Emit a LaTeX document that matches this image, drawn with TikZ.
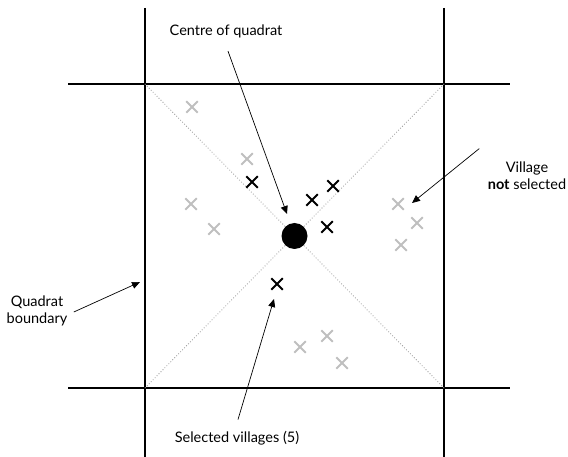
\documentclass[tikz,border=0pt]{standalone}
\usepackage{fontspec}
\setmainfont{Lato}
\usetikzlibrary{arrows.meta,shapes.misc,positioning}

\begin{document}
\begin{tikzpicture}[x=1pt, y=-1pt, >={Triangle[length=8pt,width=7pt]},
                    every node/.style={align=center, font=\fontsize{14.5}{17}\selectfont},
                    grid/.style={line width=2.6pt, black},
                    diag/.style={dotted, gray!85, line width=0.8pt},
                    village/.style={cross out, draw, minimum size=9.5pt, inner sep=0pt, line width=2pt},
                    chosen/.style={village, black},
                    other/.style={village, gray!50},
                    pointer/.style={->, line width=0.7pt}]
  \useasboundingbox (0,0) rectangle (568,457);

  % Quadrat grid
  \draw[grid] (145,8) -- (145,457);
  \draw[grid] (444,8) -- (444,457);
  \draw[grid] (68,84) -- (510,84);
  \draw[grid] (68,388) -- (510,388);

  % Diagonals
  \draw[diag] (145,84) -- (444,388);
  \draw[diag] (444,84) -- (145,388);

  % Centre of quadrat
  \node[circle, fill=black, minimum size=26pt, inner sep=0pt] (centre) at (294.5,236) {};

  % Villages not selected
  \node[other] (o1) at (192,107) {};
  \node[other] (o2) at (247,159) {};
  \node[other] (o3) at (191,204) {};
  \node[other] (o4) at (214,229) {};
  \node[other] (o5) at (398,204) {};
  \node[other] (o6) at (417,223) {};
  \node[other] (o7) at (401,245) {};
  \node[other] (o8) at (300,347) {};
  \node[other] (o9) at (327,336) {};
  \node[other] (o10) at (342,363) {};

  % Selected villages
  \node[chosen] (s1) at (252,182) {};
  \node[chosen] (s2) at (312,200) {};
  \node[chosen] (s3) at (333,186) {};
  \node[chosen] (s4) at (327,227) {};
  \node[chosen] (s5) at (277,284) {};

  % Labels
  \node (lcentre) at (226,31) {Centre of quadrat};
  \node (lselected) at (237,438) {Selected villages (5)};
  \node (lboundary) at (37,311) {Quadrat\\boundary};
  \node (lnot) at (527,176) {Village\\\textbf{not} selected};

  % Arrow ends
  \coordinate (tcentre) at (287,214);
  \coordinate (tselected) at (274,299);
  \coordinate (tboundary) at (140,282);
  \coordinate (tnot) at (412,203);

  % Pointers
  \draw[pointer] ([xshift=2pt, yshift=-10pt]lcentre.south) -- (tcentre);
  \draw[pointer] ([xshift=1pt, yshift=8pt]lselected.north) -- (tselected);
  \draw[pointer] ([xshift=3pt, yshift=-1pt]lboundary.east) -- (tboundary);
  \draw[pointer] ([xshift=-5pt, yshift=10pt]lnot.north west) -- (tnot);
\end{tikzpicture}
\end{document}
